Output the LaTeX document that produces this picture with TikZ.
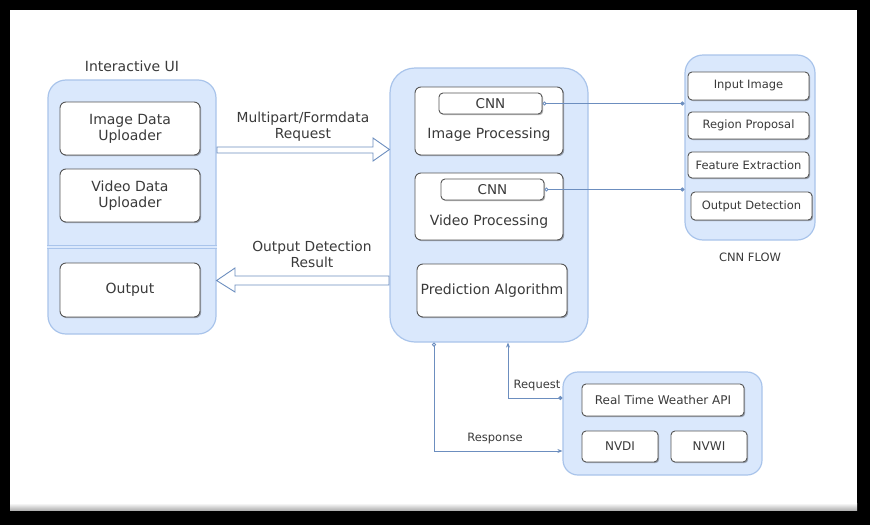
\documentclass[tikz,border=0pt]{standalone}
\usepackage{fontspec}
\setmainfont{DejaVu Sans}
\usetikzlibrary{arrows.meta,shadows,calc}
\definecolor{cfill}{HTML}{DAE8FC}
\definecolor{cline}{HTML}{A9C4EB}
\definecolor{bline}{HTML}{555555}
\definecolor{txt}{HTML}{3A3A3A}
\definecolor{linkc}{HTML}{6C8EBF}
\tikzset{
 container/.style={draw=cline, fill=cfill, line width=1.2pt, rounded corners=18pt, inner sep=0pt},
 box/.style={draw=bline, fill=white, line width=0.9pt, rounded corners=6pt, inner sep=0pt, align=center, text=txt,
   font=\fontsize{14}{16}\selectfont, drop shadow={shadow xshift=1.2pt, shadow yshift=-1.2pt, opacity=0.3, fill=black}},
 smallbox/.style={box, font=\fontsize{11.5}{13}\selectfont, rounded corners=4pt},
 lbl/.style={text=txt, align=center, inner sep=0pt, font=\fontsize{13.8}{15.5}\selectfont},
 smalllbl/.style={lbl, font=\fontsize{11.5}{13}\selectfont},
 link/.style={draw=linkc, line width=0.8pt},
 bigarrow/.style={draw=linkc, fill=white, line width=0.9pt, line join=miter},
}
\begin{document}
\begin{tikzpicture}[x=1pt,y=-1pt]
\useasboundingbox (0,0) rectangle (870,525);
\fill[black] (0,0) rectangle (870,525);
\fill[white] (10,10) rectangle (857,510);
\shade[top color=white, bottom color=black!30] (10,503) rectangle (857,510);

% Interactive UI
\node[container, minimum width=168pt, minimum height=254pt] (ui) at (132,207) {};
\node[lbl, font=\fontsize{14}{16}\selectfont] (uilbl) at (132,66) {Interactive UI};
\coordinate (dv) at (0,247);
\draw[cline, line width=1.2pt, double=cfill, double distance=2pt] (ui.west |- dv) -- (ui.east |- dv);
\node[box, minimum width=140pt, minimum height=53pt] (imgup) at (130,128.5) {Image Data\\Uploader};
\node[box, minimum width=140pt, minimum height=53pt] (vidup) at (130,195.5) {Video Data\\Uploader};
\node[box, minimum width=140pt, minimum height=54pt] (out) at (130,290) {Output};

% Server
\node[container, rounded corners=25pt, minimum width=198pt, minimum height=274pt] (server) at (489,205) {};
\node[box, minimum width=148pt, minimum height=68pt] (imgproc) at (489,121) {};
\node[smallbox, font=\fontsize{13.5}{15}\selectfont, minimum width=103pt, minimum height=21pt] (cnn1) at (490.5,103.5) {CNN};
\node[lbl, font=\fontsize{14}{16}\selectfont] (imgproclbl) at (489,135) {Image Processing};
\node[box, minimum width=148pt, minimum height=67pt] (vidproc) at (489,206.5) {};
\node[smallbox, font=\fontsize{13.5}{15}\selectfont, minimum width=103pt, minimum height=21pt] (cnn2) at (492.5,189.5) {CNN};
\node[lbl, font=\fontsize{14}{16}\selectfont] (vidproclbl) at (489,222) {Video Processing};
\node[box, minimum width=150pt, minimum height=53pt] (pred) at (492,290.5) {Prediction Algorithm};

% CNN flow
\node[container, minimum width=130pt, minimum height=185pt] (flow) at (750,147.5) {};
\node[smallbox, minimum width=121pt, minimum height=28pt] (inimg) at (748.5,86) {Input Image};
\node[smallbox, minimum width=121pt, minimum height=27pt] (region) at (748.5,125.5) {Region Proposal};
\node[smallbox, minimum width=121pt, minimum height=26pt] (feat) at (748.5,165) {Feature Extraction};
\node[smallbox, minimum width=121pt, minimum height=28pt] (outdet) at (751.5,206) {Output Detection};
\node[smalllbl] (flowlbl) at (750,257) {CNN FLOW};

% Weather
\node[container, rounded corners=15pt, minimum width=199pt, minimum height=103pt] (weather) at (662.5,423.5) {};
\node[smallbox, font=\fontsize{12}{14}\selectfont, minimum width=162pt, minimum height=32pt] (rtwa) at (663,400) {Real Time Weather API};
\node[smallbox, font=\fontsize{12}{14}\selectfont, minimum width=76pt, minimum height=31pt] (nvdi) at (620,446.5) {NVDI};
\node[smallbox, font=\fontsize{12}{14}\selectfont, minimum width=76pt, minimum height=31pt] (nvwi) at (709,446.5) {NVWI};

% big hollow arrows
\draw[bigarrow] (217,147) -- (373,147) -- (373,138) -- (server.west |- 0,149.5) -- (373,161) -- (373,153) -- (217,153) -- cycle;
\node[lbl] (reqlbl) at (303,126.5) {Multipart/Formdata\\Request};
\draw[bigarrow] (389,276) -- (235,276) -- (235,268) -- (ui.east |- 0,280.5) -- (235,292) -- (235,285) -- (389,285) -- cycle;
\node[lbl] (reslbl) at (312,254.5) {Output Detection\\Result};

% CNN links
\draw[link, {Circle[open,length=4pt,width=4pt]}-{Circle[length=4pt,width=4pt]}] (cnn1.east) -- (flow.west |- cnn1.east);
\draw[link, {Circle[open,length=4pt,width=4pt]}-{Circle[length=4pt,width=4pt]}] (cnn2.east) -- (flow.west |- cnn2.east);

% weather links
\draw[link, {Circle[length=4pt,width=4pt]}-{Stealth[length=5pt,width=4pt]}] ([yshift=25.5pt]weather.west) -| ([xshift=19pt]server.south);
\draw[link, {Circle[open,length=4pt,width=4pt]}-{Stealth[length=5pt,width=4pt]}] ([xshift=-55pt]server.south) |- ([yshift=-27.5pt]weather.west);
\node[smalllbl] (rqlbl) at (537,385) {Request};
\node[smalllbl] (rslbl) at (495,438) {Response};
\end{tikzpicture}
\end{document}
